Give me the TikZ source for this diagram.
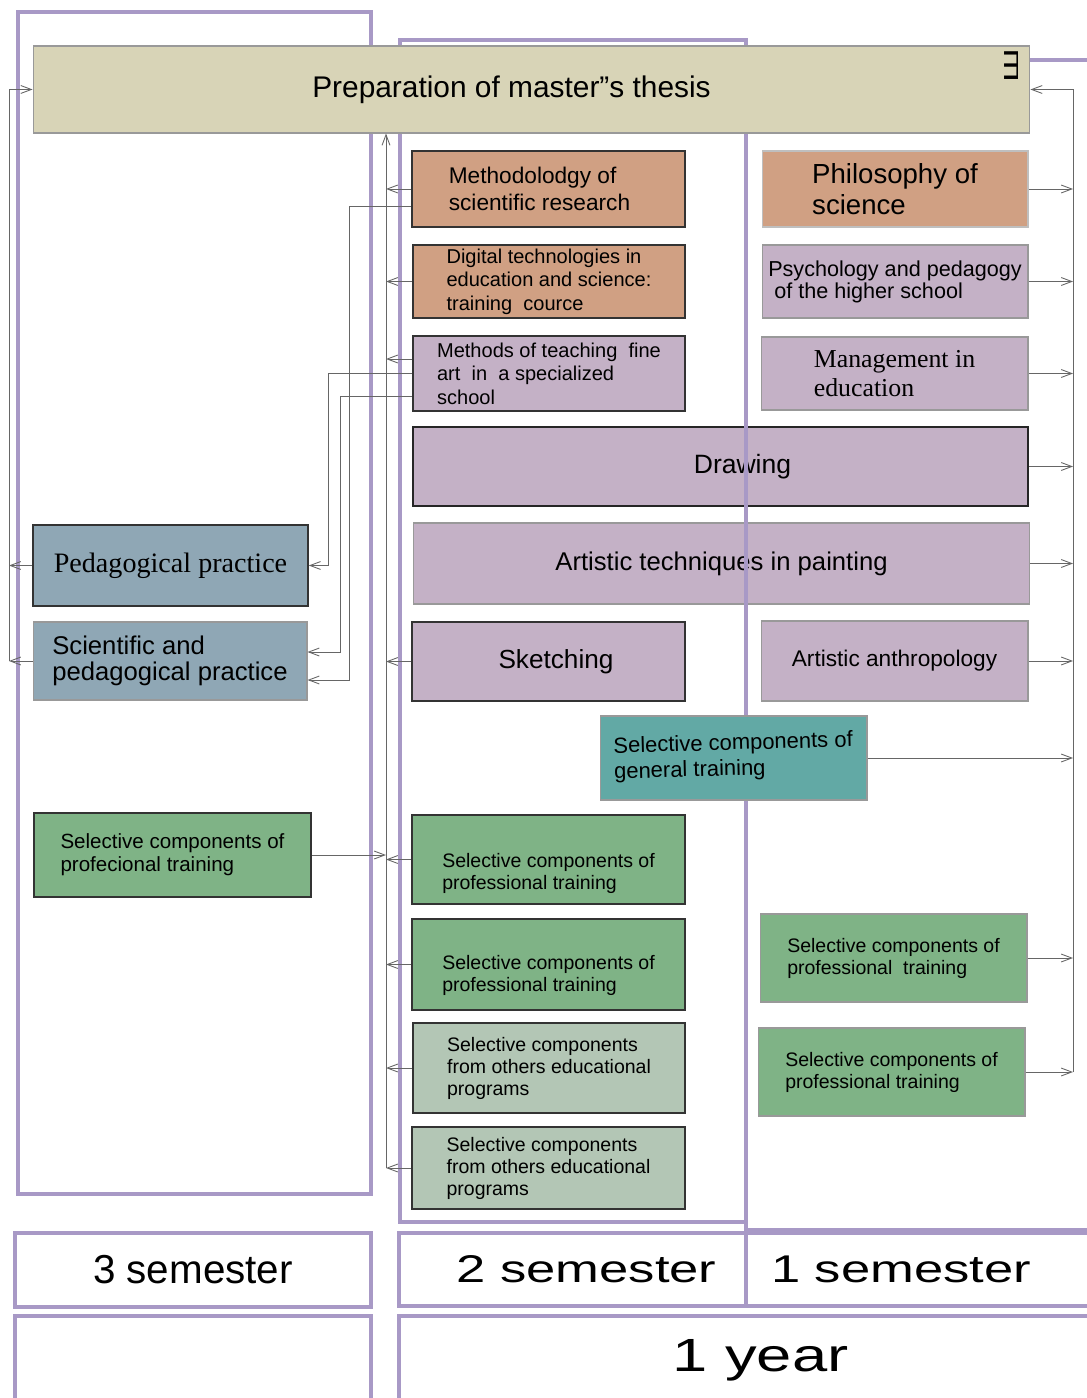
\documentclass[tikz,border=0pt]{standalone}
\usepackage{fontspec}
\setmainfont{Liberation Sans}
\newfontfamily\timesface{Liberation Serif}
\newfontfamily\wideface[FakeStretch=1.36]{Liberation Sans}
\usepackage{graphicx}
\definecolor{thesisbeige}{RGB}{216,212,183}
\definecolor{clay}{RGB}{208,160,131}
\definecolor{lilac}{RGB}{196,177,198}
\definecolor{slate}{RGB}{143,167,181}
\definecolor{sgteal}{RGB}{98,169,165}
\definecolor{leaf}{RGB}{127,179,134}
\definecolor{sage}{RGB}{179,198,181}
\definecolor{framepurple}{RGB}{168,153,198}
\usetikzlibrary{arrows.meta}
\tikzset{
>={Straight Barb[length=6pt,width=4.5pt]}, % open arrow heads of the links
every node/.append style={inner sep=0pt, align=left}, % text block sits in the middle of its box
wh/.style 2 args={minimum width=#1cm, minimum height=#2cm}, % size of a box
course/.style={rectangle, draw=black!40, line width=0.6pt}, % pale edge
strong/.style={course, draw=black!80, line width=0.9pt}, % dark edge
semframe/.style={draw=framepurple, line width=2.3pt},
sem/.style={rectangle, semframe, fill=white},
link/.style={draw=black!60, line width=0.5pt},
}
\tikzset{
  small/.style={font=\fontsize{11.1}{12.5}\selectfont}
}

\begin{document}
\begin{tikzpicture}[x=0.02cm, y=-0.02cm]
  \useasboundingbox (0,0) rectangle (1087,1398);
  \clip (0,0) rectangle (1087,1398);

  % the two wide boxes lie under the frame line
  \node[strong, fill=lilac, wh={12.3}{1.58}, draw=black!85, line width=1.3pt, font=\fontsize{15.1}{18}\selectfont] (drawing) at (720.5,466.5) {\hspace*{0.88cm}Drawing};
  \node[course, fill=lilac, wh={12.34}{1.62}, font=\fontsize{14.6}{17}\selectfont] (arttech) at (721.5,563.5) {Artistic techniques in painting};

  % semester frames
  \draw[semframe] (18,12) rectangle (371,1194);
  \draw[semframe] (400,40) rectangle (746,1222);
  \draw[semframe] (1100,60) -- (746,60) -- (746,1230) -- (1100,1230);

  \node[course, fill=thesisbeige, wh={19.94}{1.74}, font=\fontsize{17}{20}\selectfont] (thesis) at (531.5,89.5) {Preparation of master”s thesis\hspace*{0.8cm}};
  \node[rotate=90, font=\fontsize{21}{21}\selectfont] (mark) at (1012,66) {\scalebox{1}[0.55]{Ш}};

  \node[strong, fill=clay, wh={5.46}{1.52}, font=\fontsize{12.9}{15.3}\selectfont] (method) at (548.5,189) {Methodolodgy of\\scientific research\hspace*{0.36cm}};
  \node[strong, fill=clay, wh={5.44}{1.46}, font=\fontsize{11.4}{13.3}\selectfont] (digital) at (549,281.5) {Digital technologies in\\education and science:\hspace*{0.64cm}\\training\ \ cource};
  \node[strong, fill=lilac, wh={5.44}{1.5}, font=\fontsize{11.4}{13.3}\selectfont] (teach) at (549,373.5) {Methods of teaching\ \ fine\\art\ \ in\ \ a specialized\\school};
  \node[strong, fill=lilac, wh={5.46}{1.58}, font=\fontsize{14.9}{17}\selectfont] (sketch) at (548.5,661.5) {\hspace*{0.3cm}Sketching};
  \node[course, fill=sgteal, wh={5.34}{1.68}, font=\fontsize{12.5}{13.6}\selectfont] (general) at (733.5,758) {\rotatebox{1.5}{\begin{tabular}{@{}l@{}}Selective components of\\[1pt]general training\end{tabular}}};
  \node[strong, fill=leaf, wh={5.46}{1.78}, small, text height=36pt] (prof2a) at (548.5,859.5) {Selective components of\\professional training};
  \node[strong, fill=leaf, wh={5.46}{1.82}, small, text height=33pt] (prof2b) at (548.5,964.5) {Selective components of\\professional training};
  \node[strong, fill=sage, wh={5.44}{1.8}, small] (other2a) at (549,1068) {Selective components\\from others educational\\programs};
  \node[strong, fill=sage, wh={5.46}{1.64}, small] (other2b) at (548.5,1168) {Selective components\\from others educational\\programs};

  \node[course, fill=clay, draw=black!25, wh={5.32}{1.52}, font=\fontsize{15.7}{18}\selectfont] (philo) at (895,189) {Philosophy of\\science};
  \node[course, fill=lilac, wh={5.32}{1.46}, font=\fontsize{12.3}{12.5}\selectfont] (psych) at (895,281.5) {Psychology and pedagogy\\\hspace*{0.12cm}of the higher school};
  \node[course, fill=lilac, wh={5.34}{1.46}, font=\timesface\fontsize{14.7}{16.5}\selectfont] (manage) at (894.5,373.5) {Management in\\education};
  \node[course, fill=lilac, wh={5.34}{1.6}, font=\fontsize{12.9}{15}\selectfont] (anthro) at (894.5,661) {Artistic anthropology};
  \node[course, fill=leaf, wh={5.34}{1.76}, small] (prof1a) at (893.5,958) {Selective components of\\professional\ \ training};
  \node[course, fill=leaf, wh={5.34}{1.76}, small] (prof1b) at (891.5,1072) {Selective components of\\professional training};

  \node[strong, fill=slate, wh={5.5}{1.62}, font=\timesface\fontsize{16}{18}\selectfont] (pedprac) at (170.5,565.5) {Pedagogical practice};
  \node[course, fill=slate, wh={5.48}{1.56}, font=\fontsize{14.6}{14.7}\selectfont] (sciprac) at (170,661) {Scientific and\\pedagogical practice};
  \node[strong, fill=leaf, wh={5.54}{1.68}, font=\fontsize{11.7}{13}\selectfont] (profec) at (172.5,855) {Selective components of\\profecional training};

  % semesters and years
  \node[sem, wh={7.12}{1.48}, font=\fontsize{23}{27}\selectfont] (sem3) at (193,1270) {3 semester};
  \node[sem, wh={6.94}{1.46}, font=\wideface\fontsize{22}{26}\selectfont] (sem2) at (572.5,1269.5) {\hspace*{0.56cm}2 semester};
  \node[sem, wh={7.08}{1.46}, font=\wideface\fontsize{22}{26}\selectfont] (sem1) at (923,1269.5) {1 semester\hspace*{0.88cm}};
  \node[sem, wh={7.12}{1.76}] (year2) at (193,1360) {};
  \node[sem, wh={14.02}{1.76}, font=\wideface\fontsize{26.5}{30}\selectfont] (year1) at (749.5,1360) {\hspace*{0.44cm}1 year};

  % left rail
  \coordinate (lrail) at (9,0);
  \draw[link,->] (pedprac.west) -- (pedprac.west -| lrail);
  \draw[link,->] (sciprac.west) -- (sciprac.west -| lrail);
  \draw[link,->] (sciprac.west -| lrail) -- (thesis.west -| lrail) -- (thesis.west);

  % centre rail
  \coordinate (crail) at (386,0);
  \coordinate (tq) at ([yshift=0.29cm]teach.west);
  \draw[link,->] (other2b.west -| crail) -- (thesis.south -| crail);
  \foreach \n in {method, digital, sketch, prof2a, prof2b, other2a, other2b}
    \draw[link,->] (\n.west) -- (\n.west -| crail);
  \draw[link,->] (tq) -- (tq -| crail);
  \draw[link,->] (profec.east) -- (profec.east -| crail);

  % links to the practices
  \coordinate (kneeA) at (349,0);
  \coordinate (kneeB) at (328,0);
  \coordinate (kneeC) at (340,0);
  \coordinate (m1) at ([yshift=-0.34cm]method.west);
  \coordinate (m2) at ([yshift=-0.38cm]sciprac.east);
  \coordinate (t2) at ([yshift=-0.45cm]teach.west);
  \coordinate (s2) at ([yshift=0.18cm]sciprac.east);
  \draw[link,->] (m1) -- (m1 -| kneeA) -- (m2 -| kneeA) -- (m2);
  \draw[link,->] (teach.west) -- (teach.west -| kneeB) -- (pedprac.east -| kneeB) -- (pedprac.east);
  \draw[link,->] (t2) -- (t2 -| kneeC) -- (s2 -| kneeC) -- (s2);

  % right rail
  \coordinate (rrail) at (1073,0);
  \foreach \n in {philo, psych, manage, drawing, arttech, anthro, general, prof1a, prof1b}
    \draw[link,->] (\n.east) -- (\n.east -| rrail);
  \draw[link,->] (prof1b.east -| rrail) -- (thesis.east -| rrail) -- (thesis.east);
\end{tikzpicture}
\end{document}
